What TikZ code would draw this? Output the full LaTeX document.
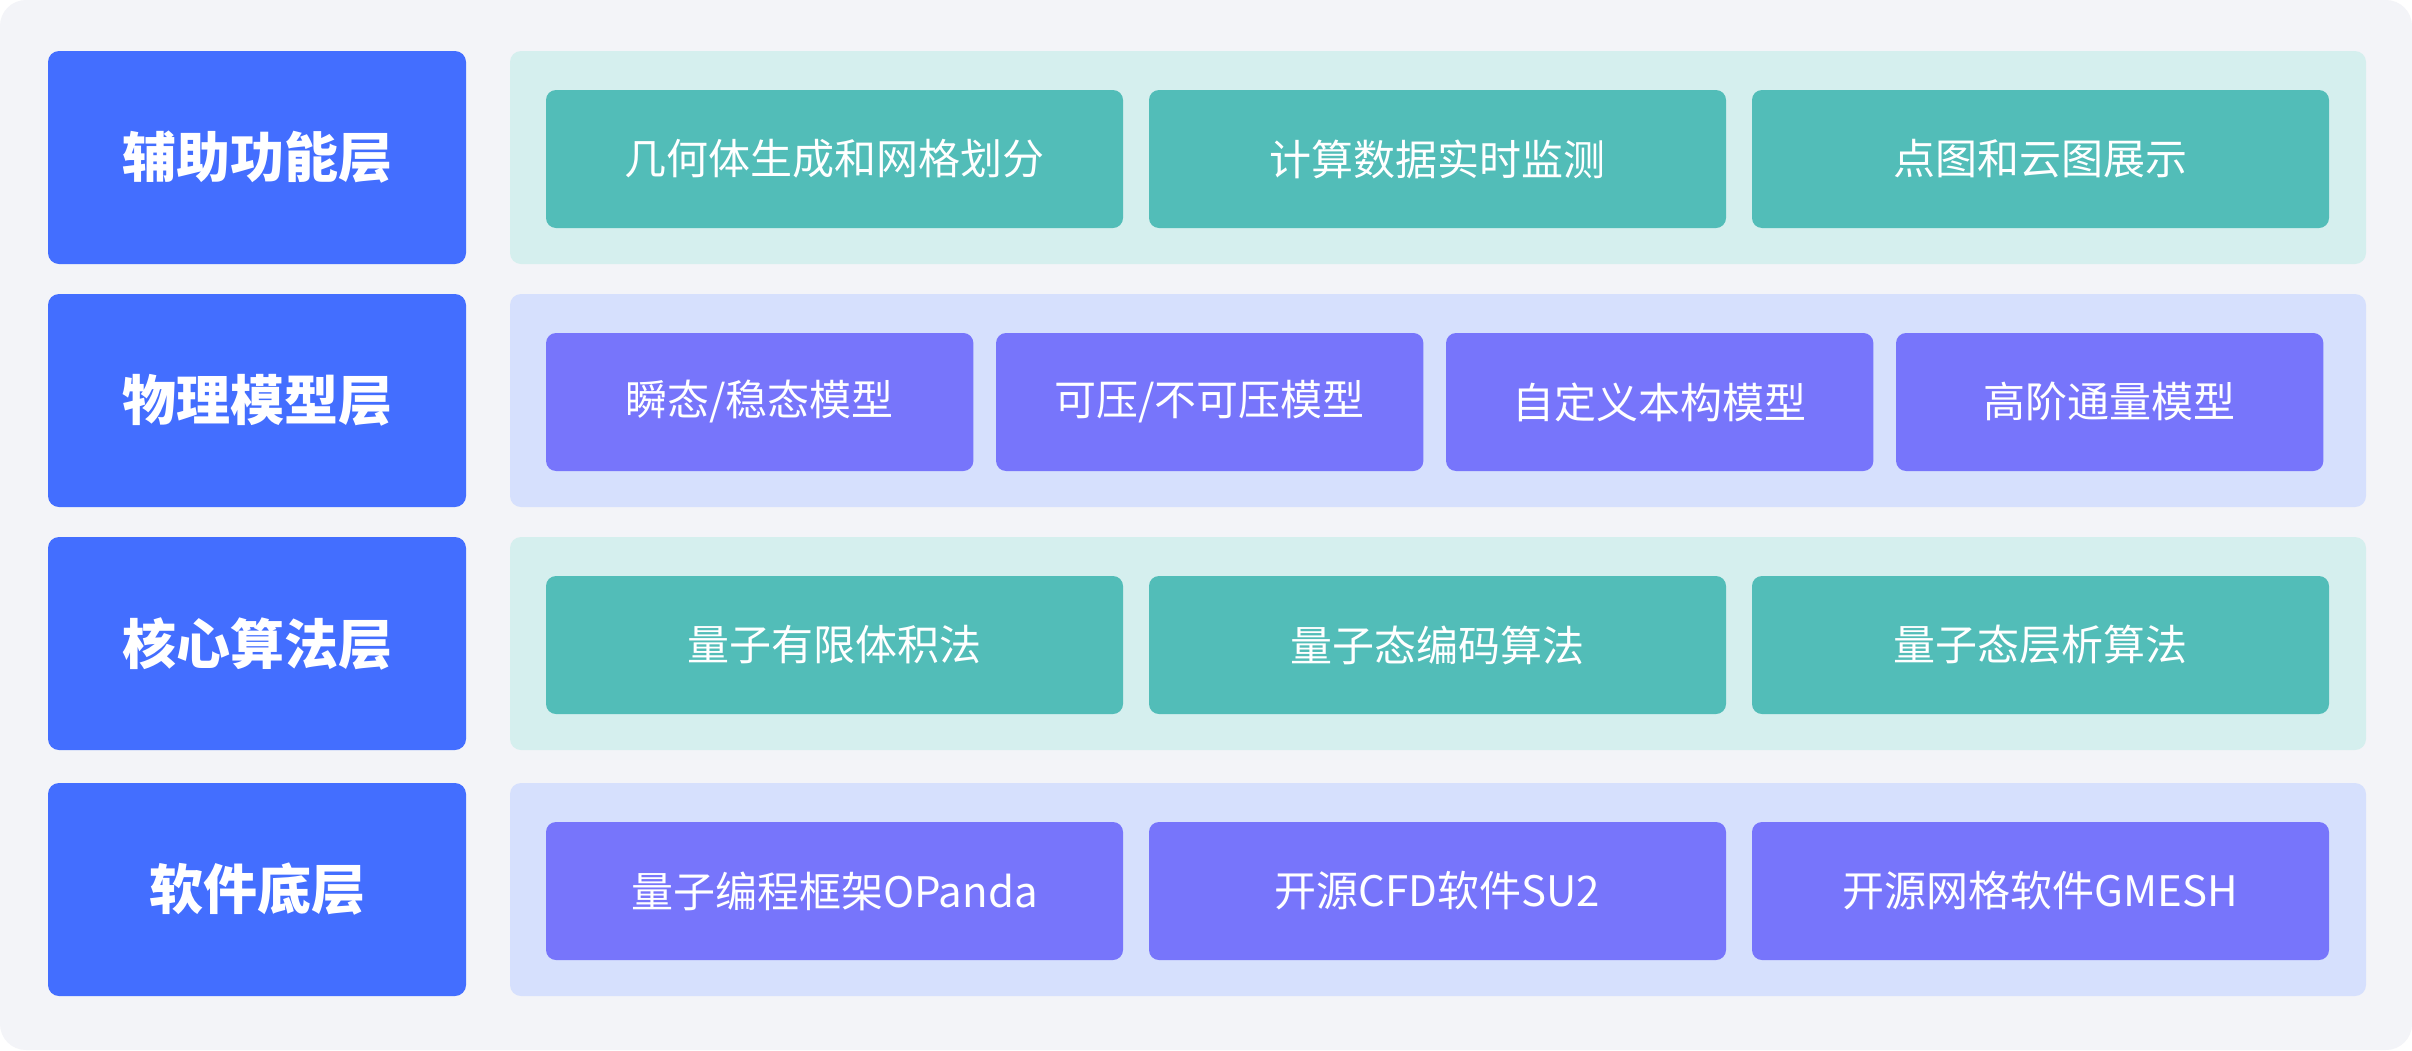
\documentclass[tikz,border=0pt]{standalone}
\usepackage{fontspec}
\setmainfont{Noto Sans CJK SC}
\newfontfamily\cjk{Noto Sans CJK SC}
\definecolor{pagebg}{HTML}{F3F4F8}
\definecolor{layerblue}{HTML}{436EFF}
\definecolor{tealpanel}{HTML}{D5EFEE}
\definecolor{tealbox}{HTML}{52BDB8}
\definecolor{lavpanel}{HTML}{D6E0FD}
\definecolor{purplebox}{HTML}{7775FB}
\begin{document}
\begin{tikzpicture}[x=1pt,y=-1pt,
  layerbox/.style={fill=layerblue,rounded corners=11pt,minimum width=418pt,minimum height=213pt,inner sep=0pt,text=white,font=\cjk\bfseries\fontsize{54}{62}\selectfont},
  panel/.style={fill=#1,rounded corners=11pt,minimum width=1856pt,minimum height=213pt,inner sep=0pt},
  itembox/.style={fill=#1,rounded corners=10pt,minimum height=138pt,inner sep=0pt,text=white,font=\cjk\fontsize{42}{50}\selectfont},
  wide/.style={minimum width=577pt},
  narrow/.style={minimum width=427.3pt}]
\useasboundingbox (0,0) rectangle (2412,1050);
\fill[white] (0,0) rectangle (2412,1050);
\fill[pagebg,rounded corners=26pt] (0,0) rectangle (2412,1050);
% row 1
\node[layerbox] (L1) at (257,157.5) {辅助功能层};
\node[panel=tealpanel] (P1) at (1438,157.5) {};
\node[itembox=tealbox,wide] (A1) at (834.5,159) {几何体生成和网格划分};
\node[itembox=tealbox,wide] (A2) at (1437.5,159) {计算数据实时监测};
\node[itembox=tealbox,wide] (A3) at (2040.5,159) {点图和云图展示};
% row 2
\node[layerbox] (L2) at (257,400.5) {物理模型层};
\node[panel=lavpanel] (P2) at (1438,400.5) {};
\node[itembox=purplebox,narrow] (B1) at (759.7,402) {瞬态/稳态模型};
\node[itembox=purplebox,narrow] (B2) at (1209.7,402) {可压/不可压模型};
\node[itembox=purplebox,narrow] (B3) at (1659.7,402) {自定义本构模型};
\node[itembox=purplebox,narrow] (B4) at (2109.7,402) {高阶通量模型};
% row 3
\node[layerbox] (L3) at (257,643.5) {核心算法层};
\node[panel=tealpanel] (P3) at (1438,643.5) {};
\node[itembox=tealbox,wide] (C1) at (834.5,645) {量子有限体积法};
\node[itembox=tealbox,wide] (C2) at (1437.5,645) {量子态编码算法};
\node[itembox=tealbox,wide] (C3) at (2040.5,645) {量子态层析算法};
% row 4
\node[layerbox] (L4) at (257,889.5) {软件底层};
\node[panel=lavpanel] (P4) at (1438,889.5) {};
\node[itembox=purplebox,wide] (D1) at (834.5,891) {量子编程框架OPanda};
\node[itembox=purplebox,wide] (D2) at (1437.5,891) {开源CFD软件SU2};
\node[itembox=purplebox,wide] (D3) at (2040.5,891) {开源网格软件GMESH};
\end{tikzpicture}
\end{document}
